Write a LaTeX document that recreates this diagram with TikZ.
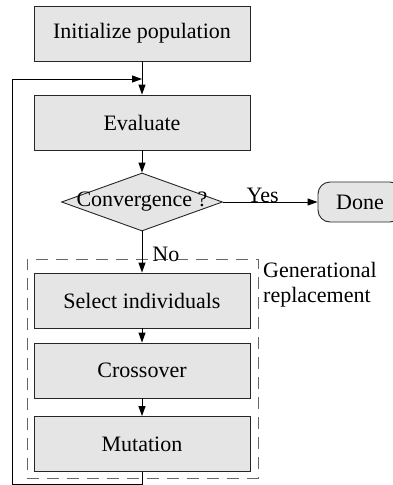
\documentclass[tikz,border=0pt]{standalone}
\usepackage{fontspec}
\setmainfont{Liberation Serif}
\usetikzlibrary{shapes.geometric,arrows.meta}
\begin{document}
\begin{tikzpicture}[x=1pt,y=-1pt,
  every node/.style={font=\fontsize{22}{25}\selectfont},
  stepbox/.style={draw=black!85, fill=black!10, line width=0.9pt,
    minimum width=216pt, minimum height=55pt, inner sep=0pt},
  decision/.style={diamond, draw=black!85, fill=black!10, line width=0.9pt,
    minimum width=161pt, minimum height=58pt, inner sep=0pt},
  terminal/.style={draw=black!85, fill=black!10, line width=0.9pt,
    rounded corners=12pt, minimum width=84pt, minimum height=40pt, inner sep=0pt},
  flow/.style={line width=0.9pt, -{Triangle[length=10pt,width=7pt]}},
  group/.style={draw=black!60, dash pattern=on 12pt off 8pt, line width=0.9pt,
    minimum width=231pt, minimum height=219pt, inner sep=0pt},
  tag/.style={inner sep=0pt}
]
\useasboundingbox (0,0) rectangle (393,485);

% dashed frame around the generational replacement steps
\node[group] (gen) at (142.5,368.5) {};
\node[tag, anchor=north west, align=left] (genlabel) at (263,262) {Generational\\replacement};

% process steps
\node[stepbox] (init)   at (142,33.5)  {Initialize population};
\node[stepbox] (eval)   at (142,122.5) {Evaluate};
\node[decision] (conv)  at (142,202)   {};
\node[tag] (convtext)   at (conv.center) {Convergence ?};
\node[terminal] (done)  at (360,202)   {Done};
\node[stepbox] (select) at (142,300.5) {Select individuals};
\node[stepbox] (cross)  at (142,370.5) {Crossover};
\node[stepbox] (mut)    at (142,444)   {Mutation};

% main flow
\coordinate (loopin) at (142,79);
\draw[flow] (init) -- (eval);
\draw[flow] (eval) -- (conv.north);
\draw[flow] (conv.east) -- node[tag, pos=0.42, anchor=base] (yes) {Yes} (done.west);
\draw[flow] (conv.south) -- node[tag, pos=0.74, anchor=base west, xshift=10pt] (no) {No} (select);
\draw[flow] (select) -- (cross);
\draw[flow] (cross) -- (mut);

% feedback loop back to evaluation
\draw[flow] (mut.south) -- ++(0,12) -| (12,79) -- (loopin);
\end{tikzpicture}
\end{document}
